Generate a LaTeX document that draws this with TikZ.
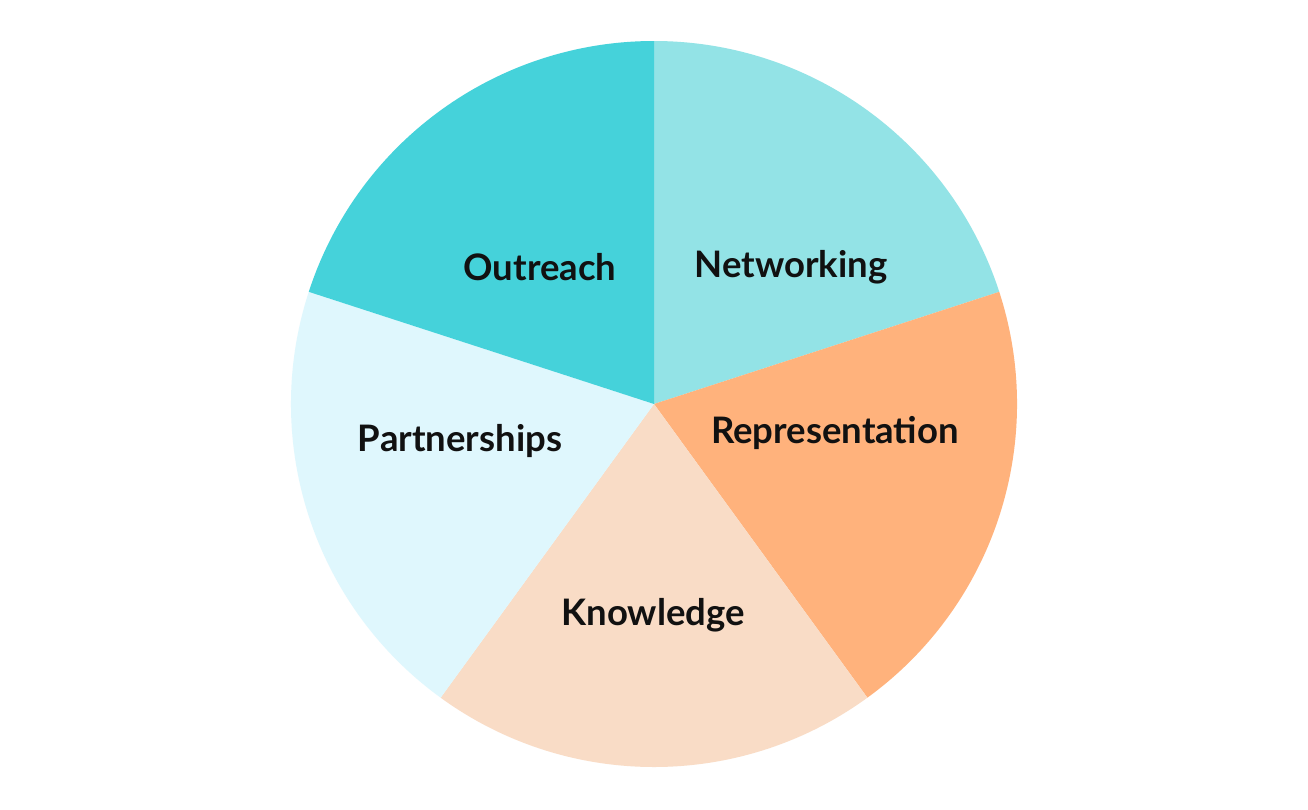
\documentclass[tikz,border=0pt]{standalone}
\usepackage{fontspec}
\setmainfont{Lato}
\definecolor{cOut}{HTML}{45D2DA}
\definecolor{cNet}{HTML}{93E3E6}
\definecolor{cRep}{HTML}{FFB27C}
\definecolor{cKno}{HTML}{F9DCC6}
\definecolor{cPar}{HTML}{DFF7FD}
\definecolor{txt}{HTML}{111111}
\begin{document}
\begin{tikzpicture}[x=1pt,y=-1pt,
  lbl/.style={font=\fontsize{36.5}{42}\selectfont\bfseries, text=txt, inner sep=0pt}]
\useasboundingbox (0,0) rectangle (1308,809);
\fill[white] (0,0) rectangle (1308,809);
\coordinate (c) at (654,404);
\def\R{363}
\fill[cNet] (c) -- ++(-90:\R) arc[start angle=-90, end angle=-18, radius=\R] -- cycle;
\fill[cRep] (c) -- ++(-18:\R) arc[start angle=-18, end angle=54, radius=\R] -- cycle;
\fill[cKno] (c) -- ++(54:\R) arc[start angle=54, end angle=126, radius=\R] -- cycle;
\fill[cPar] (c) -- ++(126:\R) arc[start angle=126, end angle=198, radius=\R] -- cycle;
\fill[cOut] (c) -- ++(198:\R) arc[start angle=198, end angle=270, radius=\R] -- cycle;
\node[lbl] (out) at (540,267) {Outreach};
\node[lbl] (net) at (791,267) {Networking};
\node[lbl] (rep) at (835,433) {Representation};
\node[lbl] (kno) at (653,615) {Knowledge};
\node[lbl] (par) at (460,441) {Partnerships};
\end{tikzpicture}
\end{document}
